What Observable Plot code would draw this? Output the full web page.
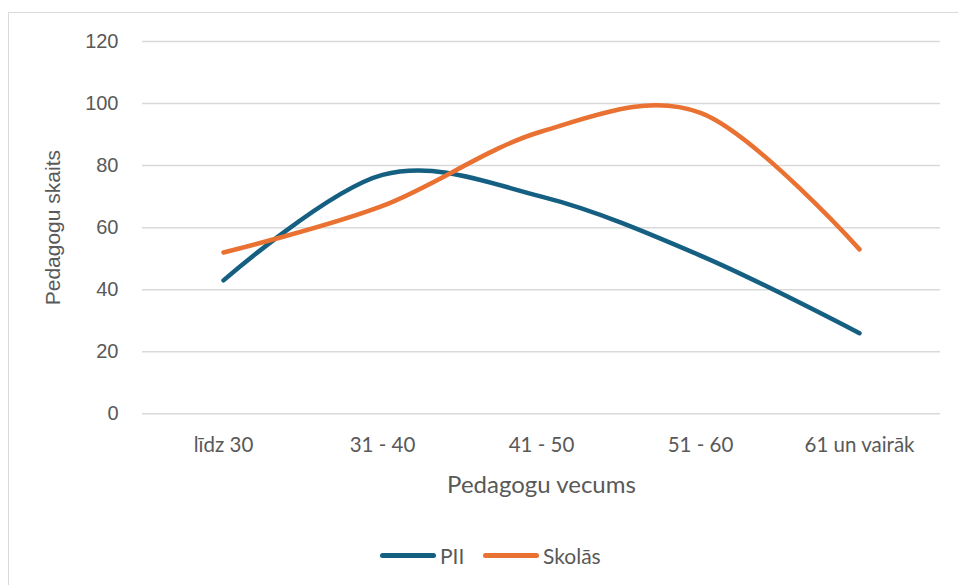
<!DOCTYPE html>
<html>
<head>
<meta charset="utf-8">
<script src="https://cdn.jsdelivr.net/npm/d3@7"></script>
<script src="https://cdn.jsdelivr.net/npm/@observablehq/plot@0.6"></script>
<style>
  html, body { margin: 0; padding: 0; background: #fff; overflow: hidden; width: 958px; height: 585px; }
  #frame { position: absolute; left: 8px; top: 12px; width: 980px; height: 620px; border: 1.5px solid #d9d9d9; box-sizing: border-box; }
  #chart { position: absolute; left: 0; top: 0; }
  #legend { position: absolute; left: 0; top: 541px; width: 958px; height: 30px; font-family: Lato, "Open Sans", sans-serif; font-size: 21px; color: #595959; }
  .item { position: absolute; top: 0px; height: 28px; display: flex; align-items: center; }
  .sw { width: 56px; height: 5px; border-radius: 3px; margin-right: 4px; }
</style>
</head>
<body>
<div id="frame"></div>
<div id="chart"></div>
<div id="legend"></div>
<script>
const categories = ["līdz 30", "31 - 40", "41 - 50", "51 - 60", "61 un vairāk"];
const seriesNames = ["PII", "Skolās"];
const pii = [43, 77, 70, 51, 26];
const skolas = [52, 67, 91, 97, 53];
const yTicks = [0, 20, 40, 60, 80, 100, 120];
const colors = ["#156082", "#E97132"];

const rows = [];
categories.forEach((c, i) => {
  rows.push({cat: c, series: seriesNames[0], value: pii[i]});
  rows.push({cat: c, series: seriesNames[1], value: skolas[i]});
});

const chart = Plot.plot({
  width: 958,
  height: 530,
  marginLeft: 142,
  marginRight: 18,
  marginTop: 41,
  marginBottom: 116.7,
  style: {background: "transparent", color: "#595959"},
  x: {type: "point", domain: categories, padding: 0.5},
  y: {domain: [0, 120]},
  color: {domain: seriesNames, range: colors},
  marks: [
    Plot.ruleY(yTicks, {stroke: "#d9d9d9", strokeWidth: 1.5}),
    Plot.axisY({
      ticks: yTicks, tickSize: 0, tickPadding: 24,
      fontSize: 20, fontFamily: "Liberation Sans, Arial, sans-serif", fill: "#595959",
      label: "Pedagogu skaits", labelAnchor: "center", labelArrow: "none", labelOffset: 97
    }),
    Plot.axisX({
      tickSize: 0, tickPadding: 24,
      fontSize: 20.5, fontFamily: "Lato, 'Open Sans', sans-serif", fill: "#595959",
      label: "Pedagogu vecums", labelAnchor: "center", labelArrow: "none", labelOffset: 79
    }),
    Plot.line(rows, {
      x: "cat", y: "value", z: "series", stroke: "series",
      strokeWidth: 4.5, strokeLinecap: "round", strokeLinejoin: "round",
      curve: "cardinal"
    })
  ]
});
chart.querySelectorAll("[aria-label='y-axis label'] text").forEach(t => {
  t.setAttribute("font-size", "21");
  t.setAttribute("font-family", "Liberation Sans, Arial, sans-serif");
  t.setAttribute("fill", "#595959");
});
chart.querySelectorAll("[aria-label='x-axis label'] text").forEach(t => {
  t.setAttribute("font-size", "24");
  t.setAttribute("font-family", "Lato, 'Open Sans', sans-serif");
  t.setAttribute("fill", "#595959");
});
document.getElementById("chart").appendChild(chart);

const legend = document.getElementById("legend");
const positions = [380, 483];
seriesNames.forEach((s, i) => {
  const it = document.createElement("div");
  it.className = "item";
  it.style.left = positions[i] + "px";
  const sw = document.createElement("div");
  sw.className = "sw";
  sw.style.background = colors[i];
  const tx = document.createElement("span");
  tx.textContent = s;
  it.appendChild(sw);
  it.appendChild(tx);
  legend.appendChild(it);
});
</script>
</body>
</html>
